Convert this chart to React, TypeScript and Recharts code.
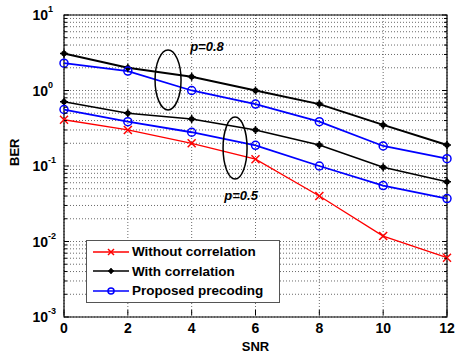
import React from 'react';
import {
  LineChart,
  Line,
  XAxis,
  YAxis,
  CartesianGrid,
  ReferenceArea,
  ReferenceDot,
} from 'recharts';

const snr = [0, 2, 4, 6, 8, 10, 12];
const withoutCorr = [0.41, 0.3, 0.2, 0.123, 0.04, 0.0118, 0.0061];
const withCorr05 = [0.71, 0.5, 0.42, 0.3, 0.19, 0.096, 0.062];
const proposed05 = [0.56, 0.386, 0.28, 0.188, 0.1, 0.055, 0.037];
const withCorr08 = [3.1, 2.0, 1.52, 1.0, 0.66, 0.35, 0.19];
const proposed08 = [2.3, 1.81, 1.0, 0.66, 0.386, 0.184, 0.125];

const xTicks = [0, 2, 4, 6, 8, 10, 12];
const decades = [0.001, 0.01, 0.1, 1, 10];
const yTicks = [0.001, 0.01, 0.1, 1].flatMap(d => [1, 2, 3, 4, 5, 6, 7, 8, 9].map(m => +(m * d).toPrecision(3))).concat([10]);

const legendItems = [
  { name: 'Without correlation', color: '#ff0000', marker: 'x' },
  { name: 'With correlation', color: '#000000', marker: 'plus' },
  { name: 'Proposed precoding', color: '#0000ff', marker: 'o' },
];

const data = snr.map((s, i) => ({
  snr: s,
  red: withoutCorr[i],
  black05: withCorr05[i],
  blue05: proposed05[i],
  black08: withCorr08[i],
  blue08: proposed08[i],
}));

const FONT = 'Liberation Sans, Arial, sans-serif';

const Marker = ({ cx, cy, type, color, size = 4 }: any) => {
  if (cx == null || cy == null) return null;
  const s = size;
  if (type === 'x') {
    return (
      <g stroke={color} strokeWidth={1.5}>
        <line x1={cx - s} y1={cy - s} x2={cx + s} y2={cy + s} />
        <line x1={cx - s} y1={cy + s} x2={cx + s} y2={cy - s} />
      </g>
    );
  }
  if (type === 'plus') {
    return (
      <g stroke={color} strokeWidth={1.5} fill={color}>
        <line x1={cx - s} y1={cy} x2={cx + s} y2={cy} />
        <line x1={cx} y1={cy - s} x2={cx} y2={cy + s} />
        <circle cx={cx} cy={cy} r={s / 2} />
      </g>
    );
  }
  return <circle cx={cx} cy={cy} r={s} fill="none" stroke={color} strokeWidth={1.5} />;
};

const YTick = (props: any) => {
  const { x, y, payload } = props;
  const v = payload.value;
  const e = Math.round(Math.log10(v));
  const isMajor = decades.some(d => Math.abs(d - v) < d * 1e-6);
  const x0 = x + 4;
  return (
    <g>
      <line x1={x0} y1={y} x2={x0 + (isMajor ? 5 : 3)} y2={y} stroke="#000" />
      <line x1={447} y1={y} x2={447 - (isMajor ? 5 : 3)} y2={y} stroke="#000" />
      {isMajor && (
        <text x={x - 12} y={y + 5} textAnchor="end" fontFamily={FONT} fontWeight="bold" fontSize={14} fill="#000">
          10
        </text>
      )}
      {isMajor && (
        <text x={x - 12} y={y - 3} textAnchor="start" fontFamily={FONT} fontWeight="bold" fontSize={9} fill="#000">
          {e}
        </text>
      )}
    </g>
  );
};

const XTick = (props: any) => {
  const { x, y, payload } = props;
  return (
    <g>
      <line x1={x} y1={y - 4} x2={x} y2={y - 9} stroke="#000" />
      <text x={x} y={y + 14} textAnchor="middle" fontFamily={FONT} fontWeight="bold" fontSize={14} fill="#000">
        {payload.value}
      </text>
    </g>
  );
};

const Ellipse = (rx: number, ry: number) => (props: any) => (
  <ellipse cx={props.cx} cy={props.cy} rx={rx} ry={ry} fill="none" stroke="#000" strokeWidth={1.5} />
);

const Label = (text: string) => (props: any) => (
  <text x={props.cx} y={props.cy} textAnchor="middle" fontFamily={FONT} fontStyle="italic" fontWeight="bold" fontSize={13} fill="#000">
    {text}
  </text>
);

const LegendBox = () => (
  <div style={{ position: 'absolute', left: 86, top: 240, width: 192, height: 59, border: '1px solid #555', background: '#fff', fontFamily: FONT, fontWeight: 'bold', fontSize: 13.5, padding: '1px 0' }}>
    {legendItems.map(item => (
      <div key={item.name} style={{ display: 'flex', alignItems: 'center', height: 19.5 }}>
        <svg width={40} height={12} style={{ marginLeft: 5 }}>
          <line x1={1} y1={6} x2={37} y2={6} stroke={item.color} strokeWidth={1.5} />
          <Marker cx={19} cy={6} type={item.marker} color={item.color} size={3} />
        </svg>
        <span style={{ color: '#000', whiteSpace: 'nowrap' }}>{item.name}</span>
      </div>
    ))}
  </div>
);

export default function App() {
  return (
    <div style={{ position: 'absolute', left: 0, top: 0, width: 476, height: 353, background: '#fff' }}>
      <LineChart width={476} height={353} data={data} margin={{ top: 15, right: 29, left: 4, bottom: 6 }}>
        <CartesianGrid stroke="#444" strokeDasharray="1 2" strokeWidth={0.8} horizontalValues={yTicks} verticalValues={xTicks} />
        <XAxis
          dataKey="snr"
          type="number"
          domain={[0, 12]}
          ticks={xTicks}
          axisLine={false}
          tickLine={false}
          tickSize={0}
          tick={<XTick />}
          height={30}
          label={{ value: 'SNR', position: 'insideBottom', offset: -4, fontFamily: FONT, fontWeight: 'bold', fontSize: 13, fill: '#000' }}
        />
        <YAxis
          scale="log"
          domain={[0.001, 10]}
          allowDataOverflow
          ticks={yTicks}
          interval={0}
          axisLine={false}
          tickLine={false}
          tickSize={0}
          tickMargin={4}
          tick={<YTick />}
          width={60}
          label={{ value: 'BER', angle: -90, position: 'insideLeft', offset: 10, fontFamily: FONT, fontWeight: 'bold', fontSize: 13, fill: '#000' }}
        />
        <ReferenceArea x1={0} x2={12} y1={0.001} y2={10} fill="none" stroke="#000" strokeWidth={1.2} fillOpacity={0} />
        <Line dataKey="black08" stroke="#000" strokeWidth={2} isAnimationActive={false} dot={(p: any) => <Marker key={p.index} {...p} type="plus" color="#000" />} />
        <Line dataKey="blue08" stroke="#0000ff" strokeWidth={1.8} isAnimationActive={false} dot={(p: any) => <Marker key={p.index} {...p} type="o" color="#0000ff" />} />
        <Line dataKey="black05" stroke="#000" strokeWidth={1.6} isAnimationActive={false} dot={(p: any) => <Marker key={p.index} {...p} type="plus" color="#000" />} />
        <Line dataKey="blue05" stroke="#0000ff" strokeWidth={1.8} isAnimationActive={false} dot={(p: any) => <Marker key={p.index} {...p} type="o" color="#0000ff" />} />
        <Line dataKey="red" stroke="#ff0000" strokeWidth={1.3} isAnimationActive={false} dot={(p: any) => <Marker key={p.index} {...p} type="x" color="#ff0000" />} />
        <ReferenceDot x={3.26} y={1.38} r={1} shape={Ellipse(13, 30)} />
        <ReferenceDot x={5.36} y={0.173} r={1} shape={Ellipse(12, 31)} />
        <ReferenceDot x={4.48} y={3.3} r={1} shape={Label('p=0.8')} />
        <ReferenceDot x={5.55} y={0.035} r={1} shape={Label('p=0.5')} />
      </LineChart>
      <LegendBox />
    </div>
  );
}
